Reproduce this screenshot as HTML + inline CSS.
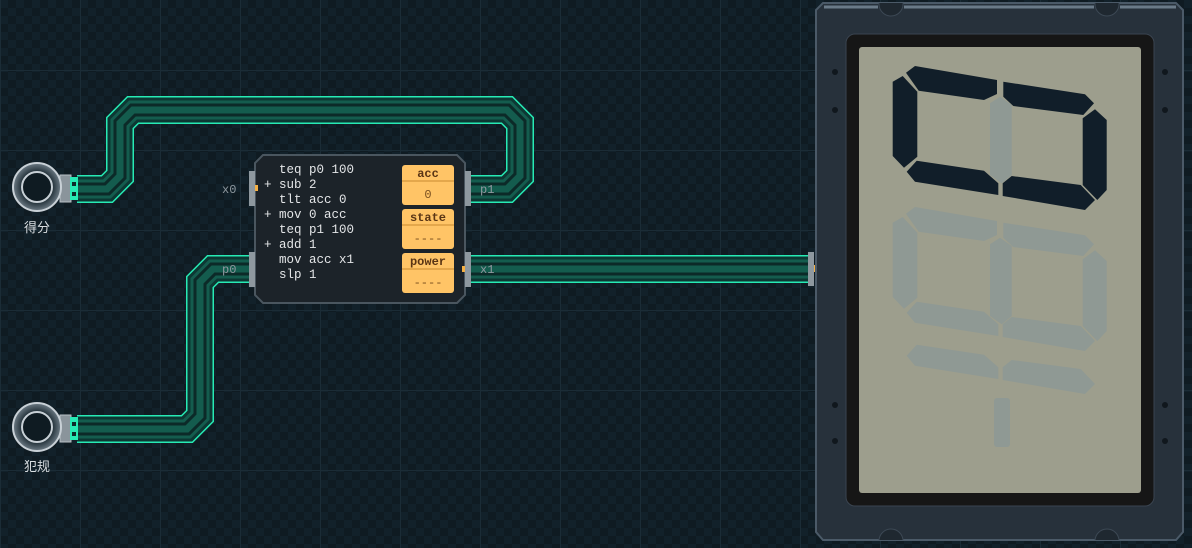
<!DOCTYPE html>
<html><head><meta charset="utf-8"><style>
html,body{margin:0;padding:0;}
body{width:1192px;height:548px;overflow:hidden;background:#0e1a21;position:relative;font-family:"Liberation Sans","Noto Sans CJK SC",sans-serif;}
</style></head><body>
<svg width="1192" height="548" style="position:absolute;left:0;top:0">
<defs>
<pattern id="chk" width="16" height="16" patternUnits="userSpaceOnUse">
<rect width="16" height="16" fill="#0f1b22"/><rect width="8" height="8" fill="#12212a"/><rect x="8" y="8" width="8" height="8" fill="#12212a"/>
</pattern>
<pattern id="grid" width="80" height="80" patternUnits="userSpaceOnUse" y="70">
<path d="M0 0H80M0 0V80" stroke="#1b2c36" stroke-width="2" fill="none"/>
</pattern>
<radialGradient id="ring" cx="50%" cy="50%" r="50%"><stop offset="60%" stop-color="#1a2830"/><stop offset="100%" stop-color="#6e7c86"/></radialGradient>
<clipPath id="fr"><path d="M823 3 H1176 L1183 10 V532 L1176 540 H823 L816 532 V10 Z"/></clipPath>
</defs>
<rect width="1192" height="548" fill="url(#chk)"/>
<rect width="1192" height="548" fill="url(#grid)"/>

<g fill="none" stroke-linejoin="miter">
<g>
<path id="p1" d="M77 189 L107 189 L120 176 L120 123 L133 110 L507 110 L520 123 L520 176 L507 189 L468 189" stroke="#27eab4" stroke-width="28"/>
<path d="M77 189 L107 189 L120 176 L120 123 L133 110 L507 110 L520 123 L520 176 L507 189 L468 189" stroke="#0d3733" stroke-width="25"/>
<path d="M77 189 L107 189 L120 176 L120 123 L133 110 L507 110 L520 123 L520 176 L507 189 L468 189" stroke="#145c4e" stroke-width="19"/>
<path d="M77 189 L107 189 L120 176 L120 123 L133 110 L507 110 L520 123 L520 176 L507 189 L468 189" stroke="#0c2a28" stroke-width="13"/>
<path d="M77 189 L107 189 L120 176 L120 123 L133 110 L507 110 L520 123 L520 176 L507 189 L468 189" stroke="#145c4e" stroke-width="7"/>
</g>
<g>
<path d="M77 429 L187 429 L200 416 L200 282 L213 269 L250 269" stroke="#27eab4" stroke-width="28"/>
<path d="M77 429 L187 429 L200 416 L200 282 L213 269 L250 269" stroke="#0d3733" stroke-width="25"/>
<path d="M77 429 L187 429 L200 416 L200 282 L213 269 L250 269" stroke="#145c4e" stroke-width="19"/>
<path d="M77 429 L187 429 L200 416 L200 282 L213 269 L250 269" stroke="#0c2a28" stroke-width="13"/>
<path d="M77 429 L187 429 L200 416 L200 282 L213 269 L250 269" stroke="#145c4e" stroke-width="7"/>
</g>
<g>
<path d="M466 269 L812 269" stroke="#27eab4" stroke-width="28"/>
<path d="M466 269 L812 269" stroke="#0d3733" stroke-width="25"/>
<path d="M466 269 L812 269" stroke="#145c4e" stroke-width="19"/>
<path d="M466 269 L812 269" stroke="#0c2a28" stroke-width="13"/>
<path d="M466 269 L812 269" stroke="#145c4e" stroke-width="7"/>
</g>
</g>

<!-- sensors -->
<g>
<rect x="60" y="175" width="11" height="27" fill="#8a949b" stroke="#b8c0c6"/>
<rect x="70" y="177" width="8" height="23" fill="#27eab4"/>
<rect x="72" y="182" width="4" height="4" fill="#0e2b2a"/><rect x="72" y="192" width="4" height="4" fill="#0e2b2a"/>
<circle cx="37" cy="187" r="24" fill="url(#ring)" stroke="#c8d0d6" stroke-width="2"/>
<circle cx="37" cy="187" r="15" fill="#0f1b22" stroke="#c8d0d6" stroke-width="2"/>
<text x="37" y="232" fill="#d8dde0" font-size="13" text-anchor="middle" font-family="Liberation Sans,Noto Sans CJK SC,sans-serif">得分</text>
<rect x="60" y="415" width="11" height="27" fill="#8a949b" stroke="#b8c0c6"/>
<rect x="70" y="417" width="8" height="23" fill="#27eab4"/>
<rect x="72" y="422" width="4" height="4" fill="#0e2b2a"/><rect x="72" y="432" width="4" height="4" fill="#0e2b2a"/>
<circle cx="37" cy="427" r="24" fill="url(#ring)" stroke="#c8d0d6" stroke-width="2"/>
<circle cx="37" cy="427" r="15" fill="#0f1b22" stroke="#c8d0d6" stroke-width="2"/>
<text x="37" y="471" fill="#d8dde0" font-size="13" text-anchor="middle" font-family="Liberation Sans,Noto Sans CJK SC,sans-serif">犯规</text>
</g>

<!-- node -->
<path d="M263 155 H457 L465 163 V295 L457 303 H263 L255 295 V163 Z" fill="#1c2329" stroke="#4a565f" stroke-width="2"/>
<rect x="249" y="171" width="6" height="35" fill="#8e989f"/>
<rect x="249" y="252" width="6" height="35" fill="#8e989f"/>
<rect x="465" y="171" width="6" height="35" fill="#8e989f"/>
<rect x="465" y="252" width="6" height="35" fill="#8e989f"/>
<rect x="255" y="185" width="3" height="6" fill="#f5b044"/>
<rect x="462" y="266" width="3" height="6" fill="#f5b044"/>
<g font-family="Liberation Mono,monospace" font-size="12.5" fill="#e4e6e8">
<text x="279" y="173">teq p0 100</text>
<text x="264" y="188">+ sub 2</text>
<text x="279" y="203">tlt acc 0</text>
<text x="264" y="218">+ mov 0 acc</text>
<text x="279" y="233">teq p1 100</text>
<text x="264" y="248">+ add 1</text>
<text x="279" y="263">mov acc x1</text>
<text x="279" y="278">slp 1</text>
</g>
<g font-family="Liberation Mono,monospace" font-size="12" fill="#8e989f">
<text x="222" y="193">x0</text><text x="222" y="273">p0</text>
<text x="480" y="193">p1</text><text x="480" y="273">x1</text>
</g>
<g font-family="Liberation Mono,monospace" text-anchor="middle">
<rect x="402" y="165" width="52" height="40" rx="3" fill="#ffc466"/><line x1="402" y1="181" x2="454" y2="181" stroke="#c98a30"/>
<text x="428" y="177" font-size="12" font-weight="bold" fill="#5a3515">acc</text><text x="428" y="198" font-size="12" fill="#7a5020">0</text>
<rect x="402" y="209" width="52" height="40" rx="3" fill="#ffc466"/><line x1="402" y1="225" x2="454" y2="225" stroke="#c98a30"/>
<text x="428" y="221" font-size="12" font-weight="bold" fill="#5a3515">state</text><text x="428" y="242" font-size="12" fill="#7a5020">----</text>
<rect x="402" y="253" width="52" height="40" rx="3" fill="#ffc466"/><line x1="402" y1="269" x2="454" y2="269" stroke="#c98a30"/>
<text x="428" y="265" font-size="12" font-weight="bold" fill="#5a3515">power</text><text x="428" y="286" font-size="12" fill="#7a5020">----</text>
</g>

<!-- display -->
<rect x="808" y="252" width="6" height="34" fill="#8e989f"/>
<rect x="814" y="265" width="3" height="7" fill="#f5b044"/>
<path d="M823 3 H1176 L1183 10 V532 L1176 540 H823 L816 532 V10 Z" fill="#27313b" stroke="#4b5a68" stroke-width="2"/>
<path d="M824 7 H878 M904 7 H1094 M1120 7 H1176" stroke="#6a7a88" stroke-width="3"/>
<g clip-path="url(#fr)" fill="#1f2830" stroke="#3c4854">
<circle cx="891" cy="4" r="12"/><circle cx="1107" cy="4" r="12"/>
<circle cx="891" cy="541" r="12"/><circle cx="1107" cy="541" r="12"/>
</g>
<g fill="#10171d"><circle cx="835" cy="72" r="3"/><circle cx="835" cy="110" r="3"/><circle cx="835" cy="405" r="3"/><circle cx="835" cy="441" r="3"/>
<circle cx="1165" cy="72" r="3"/><circle cx="1165" cy="110" r="3"/><circle cx="1165" cy="405" r="3"/><circle cx="1165" cy="441" r="3"/></g>
<rect x="846" y="34" width="308" height="472" rx="9" fill="#161616" stroke="#3a4450"/>
<rect x="859" y="47" width="282" height="446" rx="3" fill="#9d9e8d"/>
<g fill="#8f9994" transform="translate(0,141)">
<polygon points="906,72.7 915,66 997,80 997,94 984,100 918.7,90.7"/>
<polygon points="1003.3,81.7 1085,94.3 1094,103.3 1083.3,115 1013.3,106 1003.3,96.7"/>
<polygon points="892.7,81.7 902.7,76 917.3,91.7 917.3,156.7 904,167.7 892.7,156"/>
<polygon points="1082.7,118.3 1095,109.3 1106.7,120 1106.7,190 1097.3,200 1082.7,185"/>
<polygon points="906.7,171.7 916.7,160.7 984,170.7 998.3,183.3 998.3,195 915,181.7"/>
<polygon points="1002.7,183.3 1011.7,176 1080.7,185 1095,200 1085,210 1002.7,196"/>
<polygon points="990,103.3 1000,96.7 1011.7,105 1011.7,175 1001.7,183.3 990,175"/>
</g>
<g fill="#8f9994" transform="translate(0,184)">
<polygon points="906.7,171.7 916.7,160.7 984,170.7 998.3,183.3 998.3,195 915,181.7"/>
<polygon points="1002.7,183.3 1011.7,176 1080.7,185 1095,200 1085,210 1002.7,196"/>
</g>
<rect x="994" y="398" width="16" height="49" rx="3" fill="#8f9994"/>
<polygon points="990,103.3 1000,96.7 1011.7,105 1011.7,175 1001.7,183.3 990,175" fill="#8f9994"/>
<g fill="#111e29">
<polygon points="906,72.7 915,66 997,80 997,94 984,100 918.7,90.7"/>
<polygon points="1003.3,81.7 1085,94.3 1094,103.3 1083.3,115 1013.3,106 1003.3,96.7"/>
<polygon points="892.7,81.7 902.7,76 917.3,91.7 917.3,156.7 904,167.7 892.7,156"/>
<polygon points="1082.7,118.3 1095,109.3 1106.7,120 1106.7,190 1097.3,200 1082.7,185"/>
<polygon points="906.7,171.7 916.7,160.7 984,170.7 998.3,183.3 998.3,195 915,181.7"/>
<polygon points="1002.7,183.3 1011.7,176 1080.7,185 1095,200 1085,210 1002.7,196"/>
</g>
</svg>
</body></html>
